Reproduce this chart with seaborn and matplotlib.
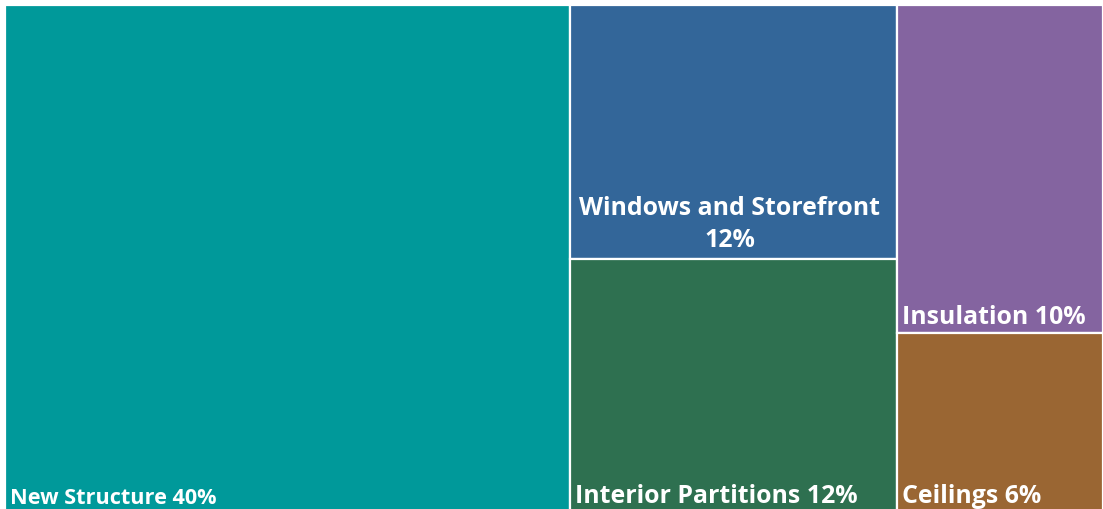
import matplotlib
matplotlib.use("Agg")
import matplotlib.pyplot as plt
import seaborn as sns
from matplotlib.patches import Rectangle

# data: label, percent shown, area, column in the treemap
names    = ["New Structure", "Windows and Storefront", "Interior Partitions", "Insulation", "Ceilings"]
percents = [40, 12, 12, 10, 6]
sizes    = [41.2, 11.9, 11.9, 9.7, 5.3]
columns  = [0, 1, 1, 2, 2]
colors   = ["#00999A", "#336699", "#2E7050", "#8464A0", "#9A6633"]

sns.set_theme(style="white")
plt.rcParams["font.family"] = ["Open Sans", "DejaVu Sans"]

fig = plt.figure(figsize=(11.03, 5.10), dpi=100)
ax = fig.add_axes([5 / 1103, -3 / 510, 1098 / 1103, 507 / 510])
ax.set_xlim(0, 1)
ax.set_ylim(0, 1)
ax.axis("off")

total = sum(sizes)
x0 = 0.0
for col in sorted(set(columns)):
    idx = [i for i, c in enumerate(columns) if c == col]
    col_sum = sum(sizes[i] for i in idx)
    w = col_sum / total
    y_top = 1.0
    for i in idx:
        h = sizes[i] / col_sum
        y0 = y_top - h
        ax.add_patch(Rectangle((x0, y0), w, h, facecolor=colors[i],
                               edgecolor="white", linewidth=1.6))
        fs = 15.6 if i == 0 else 17.9
        if names[i] == "Windows and Storefront":
            ax.annotate(f"{names[i]}\n{percents[i]}%", xy=(x0 + w / 2, y0),
                        xytext=(-3, 4.5), textcoords="offset points",
                        ha="center", va="bottom", color="white",
                        fontsize=fs, fontweight="bold", linespacing=1.38)
        else:
            ax.annotate(f"{names[i]} {percents[i]}%", xy=(x0, y0),
                        xytext=(3.5, 3), textcoords="offset points",
                        ha="left", va="bottom", color="white",
                        fontsize=fs, fontweight="bold")
        y_top = y0
    x0 += w

fig.savefig("out.png", dpi=100)
